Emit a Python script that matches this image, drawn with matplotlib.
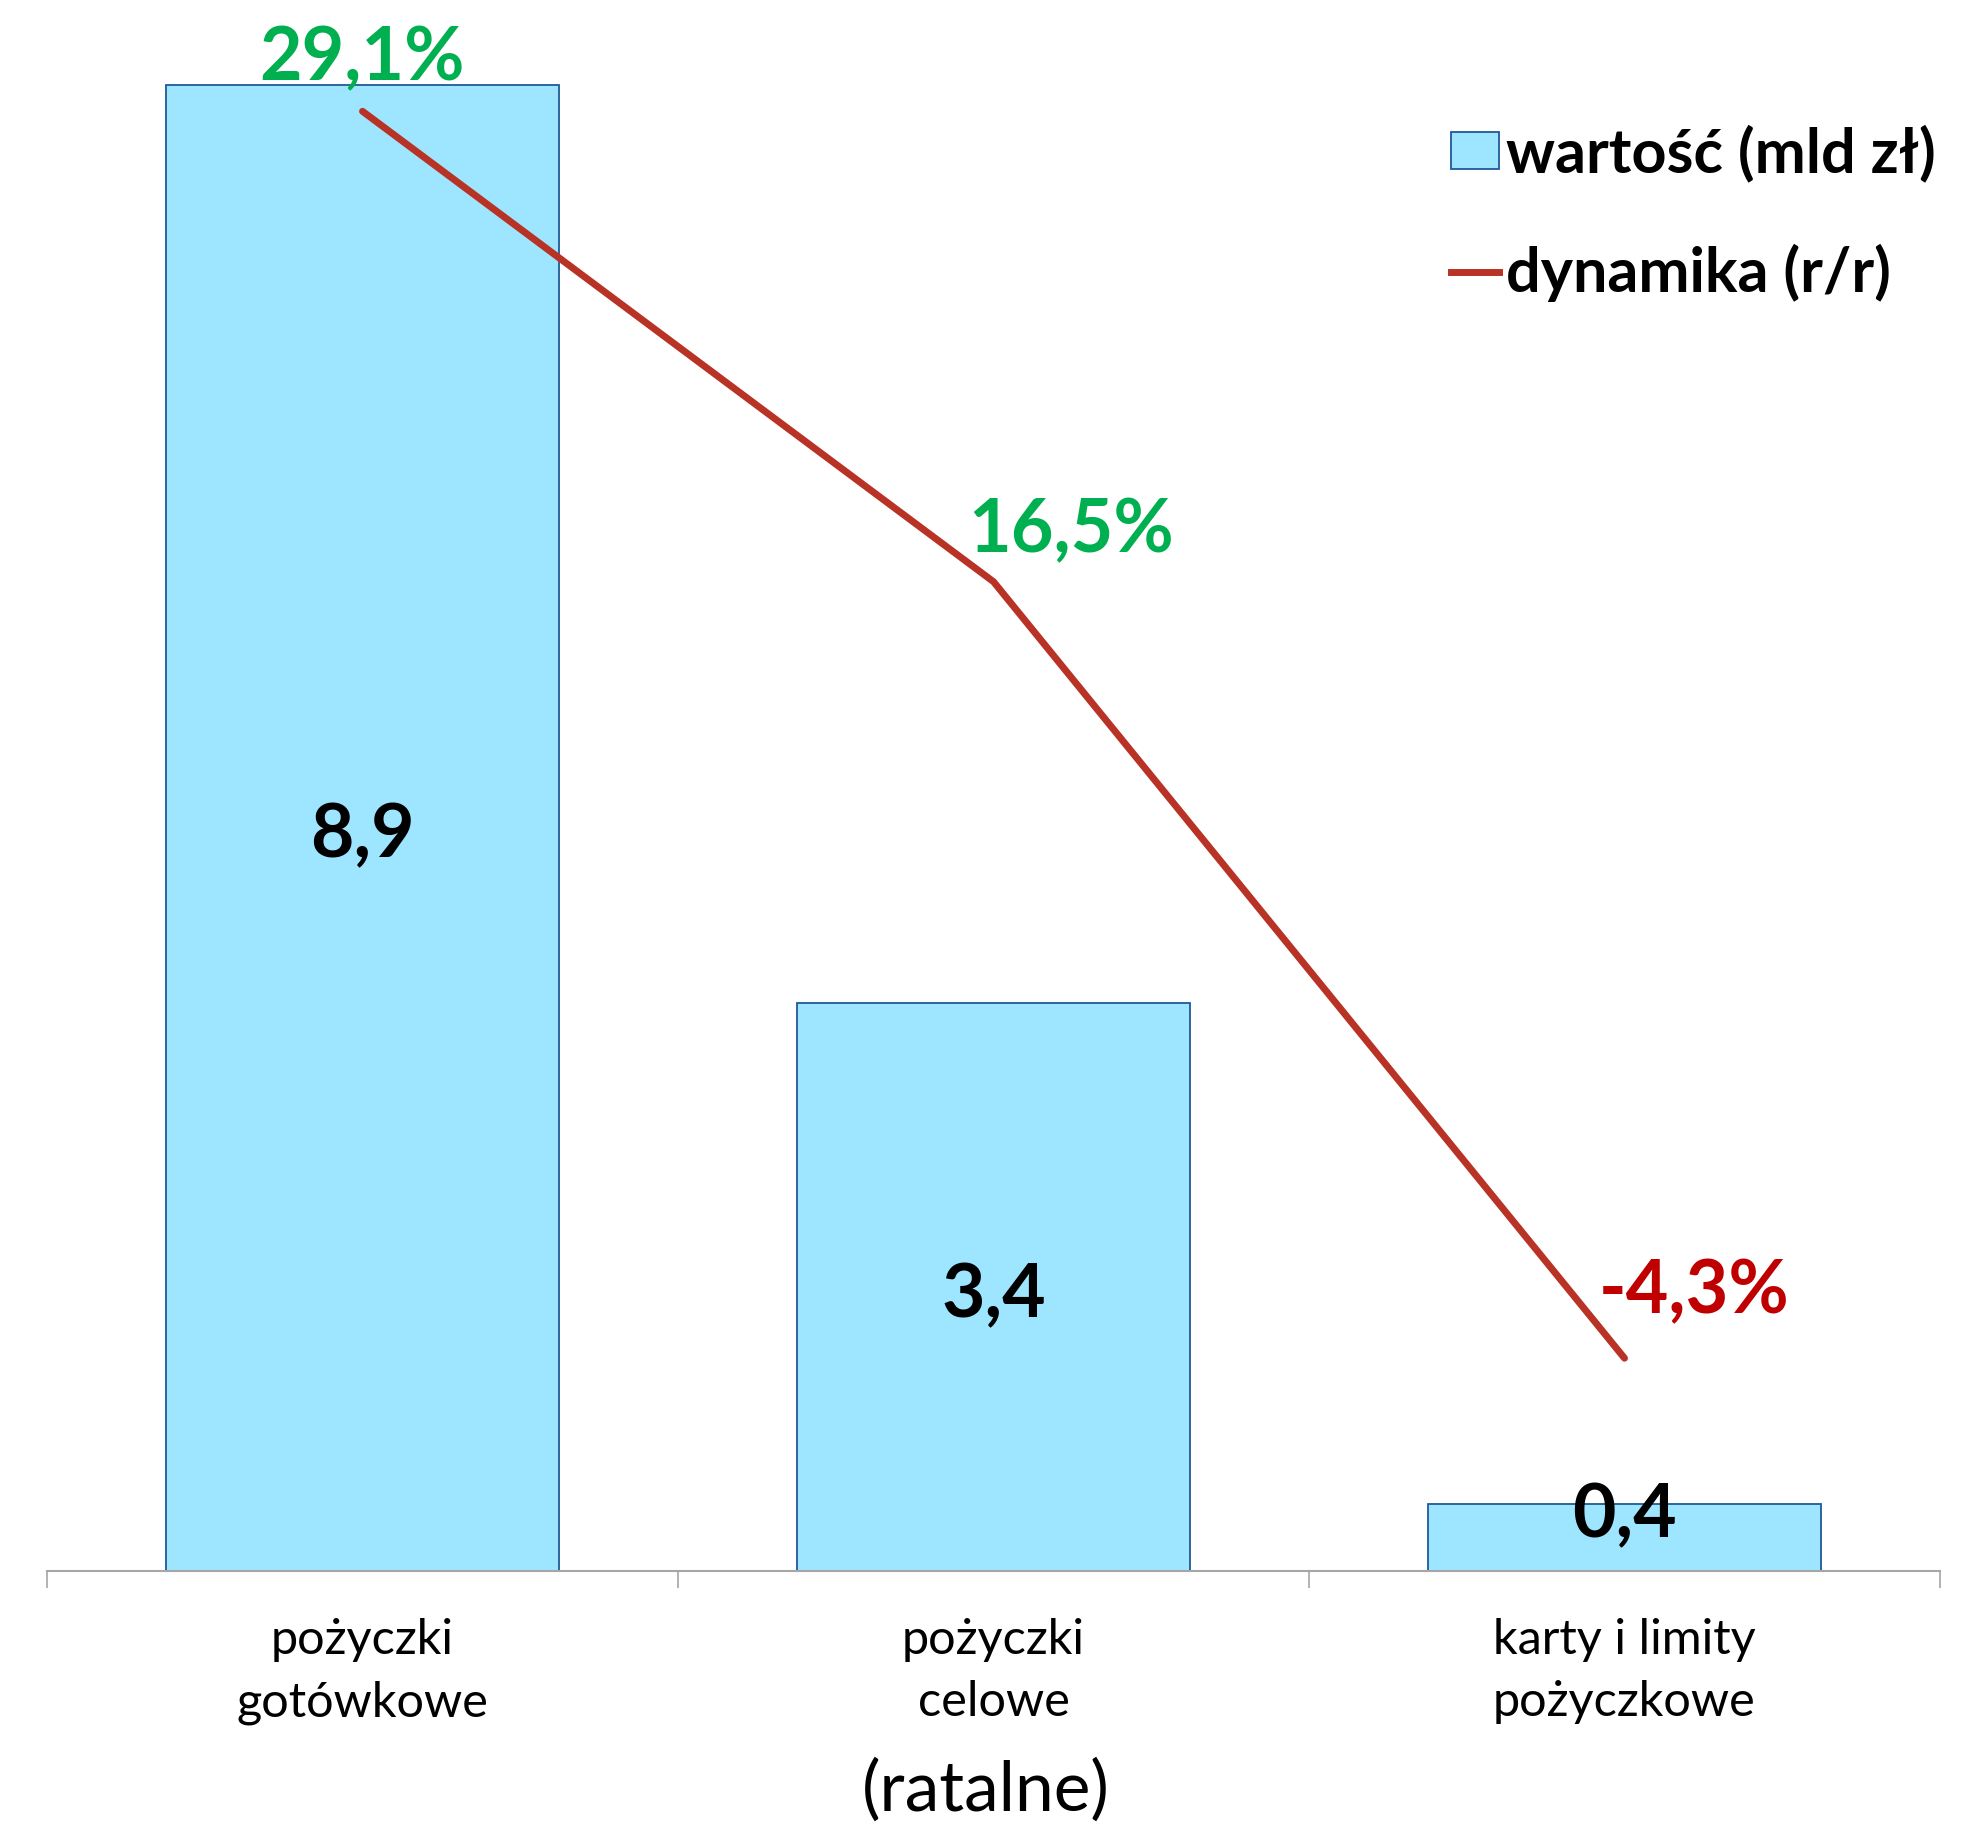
import matplotlib
matplotlib.use("Agg")
import matplotlib.pyplot as plt
from matplotlib.patches import Patch
from matplotlib.lines import Line2D

plt.rcParams['font.family'] = ['Lato', 'DejaVu Sans']

# data
categories = ["pożyczki\ngotówkowe", "pożyczki\ncelowe", "karty i limity\npożyczkowe"]
values = [8.9, 3.4, 0.4]          # wartość (mld zł)
growth = [29.1, 16.5, -4.3]       # dynamika r/r, %
value_labels = ["8,9", "3,4", "0,4"]
growth_labels = ["29,1%", "16,5%", "-4,3%"]

BAR_FC = "#9EE6FF"
BAR_EC = "#1F5A96"
LINE_C = "#B83226"
GREEN = "#00B050"
RED = "#C00000"

fig = plt.figure(figsize=(19.83, 18.26), dpi=100)
ax = fig.add_axes([47/1983, 1 - 1571/1826, (1940 - 47)/1983, (1571 - 68)/1826])
x = list(range(len(categories)))

ax.bar(x, values, width=0.623, color=BAR_FC, edgecolor=BAR_EC, lw=1.3, zorder=2)
for xi, v, lab in zip(x, values, value_labels):
    dy = 16 if v < 1 else -6
    ax.annotate(lab, (xi, v / 2), xytext=(0, dy), textcoords="offset points",
                ha="center", va="center", fontsize=54, fontweight="bold", color="black", zorder=5)

ax.set_xlim(-0.5, 2.5)
ax.set_ylim(0, 9)
ax.set_yticks([])
for s in ["left", "right", "top"]:
    ax.spines[s].set_visible(False)
ax.spines["bottom"].set_color("#A6A6A6")
ax.spines["bottom"].set_linewidth(1.5)
ax.set_xticks([-0.5, 0.5, 1.5, 2.5])
ax.set_xticklabels([])
ax.tick_params(axis="x", which="major", length=12, width=1.2, color="#A6A6A6")
ax.set_xticks(x, minor=True)
ax.set_xticklabels(categories, minor=True, fontsize=35, linespacing=1.5)
ax.tick_params(axis="x", which="minor", length=0, pad=34)

ax2 = ax.twinx()
ax2.plot(x, growth, color=LINE_C, lw=5, solid_capstyle="round", zorder=3)
ax2.set_ylim(-10, 30.26)
ax2.set_yticks([])
for s in ax2.spines.values():
    s.set_visible(False)
offsets = [(0, 38), (56, 37), (50, 48)]
for xi, g, lab, off in zip(x, growth, growth_labels, offsets):
    ax2.annotate(lab, (xi, g), xytext=off, textcoords="offset points",
                 ha="center", va="center", fontsize=53, fontweight="bold",
                 color=GREEN if g >= 0 else RED)

fig.text(986/1983, 1 - 1790/1826, "(ratalne)", ha="center", va="center", fontsize=50)

handles = [Patch(facecolor=BAR_FC, edgecolor=BAR_EC, lw=1.3),
           Line2D([0], [0], color=LINE_C, lw=5)]
leg = ax2.legend(handles, ["wartość (mld zł)", "dynamika (r/r)"],
                 loc="upper left", bbox_to_anchor=(1420/1983, 1 - 94/1826),
                 bbox_transform=fig.transFigure, frameon=False, borderpad=0,
                 handlelength=0.8, handleheight=0.55, handletextpad=0.1,
                 labelspacing=1.0, prop={"size": 44, "weight": "bold"})

fig.savefig("out.png", dpi=100)
